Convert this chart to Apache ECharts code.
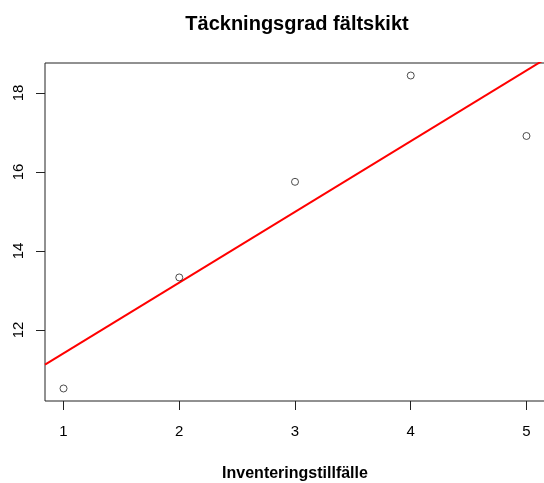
<!DOCTYPE html>
<html>
<head>
<meta charset="utf-8">
<script src="https://cdn.jsdelivr.net/npm/echarts@6/dist/echarts.min.js"></script>
<style>
  html, body { margin: 0; padding: 0; background: #fff; }
  #chart { width: 544px; height: 483px; }
</style>
</head>
<body>
<div id="chart"></div>
<script>
// Täckningsgrad i fältskiktet per inventeringstillfälle
const tillfalle = [1, 2, 3, 4, 5];
const tackning = [10.52, 13.33, 15.75, 18.44, 16.91];
const xTicks = [1, 2, 3, 4, 5];
const yTicks = [12, 14, 16, 18];

// Axis extents padded by 4 % of the data range on each side
function padded(vals) {
  const lo = Math.min(...vals), hi = Math.max(...vals);
  const p = (hi - lo) * 0.04;
  return [lo - p, hi + p];
}
const [xMin, xMax] = padded(tillfalle);
const [yMin, yMax] = padded(tackning);

// Least-squares regression line
const n = tillfalle.length;
const mx = tillfalle.reduce((a, b) => a + b, 0) / n;
const my = tackning.reduce((a, b) => a + b, 0) / n;
let sxy = 0, sxx = 0;
for (let i = 0; i < n; i++) {
  sxy += (tillfalle[i] - mx) * (tackning[i] - my);
  sxx += (tillfalle[i] - mx) ** 2;
}
const slope = sxy / sxx;
const intercept = my - slope * mx;
const fitLine = [xMin, xMax].map(x => [x, intercept + slope * x]);

const font = '"Liberation Sans", Arial, sans-serif';
const chart = echarts.init(document.getElementById('chart'));
chart.setOption({
  animation: false,
  backgroundColor: '#fff',
  title: {
    text: 'Täckningsgrad fältskikt',
    left: 292,
    top: 9,
    textAlign: 'center',
    textStyle: { fontFamily: font, fontWeight: 'bold', fontSize: 20, color: '#000' }
  },
  grid: {
    left: 45, right: -1, top: 63, bottom: 82,
    outerBoundsMode: 'none',
    containLabel: false,
    show: true, borderColor: '#222', borderWidth: 1, backgroundColor: 'transparent'
  },
  xAxis: {
    type: 'value',
    min: xMin, max: xMax,
    name: 'Inventeringstillfälle',
    nameLocation: 'middle',
    nameGap: 65,
    nameTextStyle: { fontFamily: font, fontWeight: 'bold', fontSize: 16, color: '#000' },
    axisLine: { show: false },
    splitLine: { show: false },
    axisTick: { show: true, length: 9, customValues: xTicks, lineStyle: { color: '#222' } },
    axisLabel: { customValues: xTicks, margin: 23, fontFamily: font, fontSize: 15, color: '#000' }
  },
  yAxis: {
    type: 'value',
    min: yMin, max: yMax,
    axisLine: { show: false },
    splitLine: { show: false },
    axisTick: { show: true, length: 9, customValues: yTicks, lineStyle: { color: '#222' } },
    axisLabel: { customValues: yTicks, rotate: 90, margin: 19, fontFamily: font, fontSize: 15, color: '#000' }
  },
  series: [
    {
      type: 'line',
      data: fitLine,
      symbol: 'none',
      lineStyle: { color: '#ff0000', width: 2 },
      z: 2
    },
    {
      type: 'scatter',
      data: tillfalle.map((x, i) => [x, tackning[i]]),
      symbol: 'circle',
      symbolSize: 7,
      itemStyle: { color: 'rgba(255,255,255,0)', borderColor: '#222', borderWidth: 1 },
      z: 3
    }
  ]
});
</script>
</body>
</html>
